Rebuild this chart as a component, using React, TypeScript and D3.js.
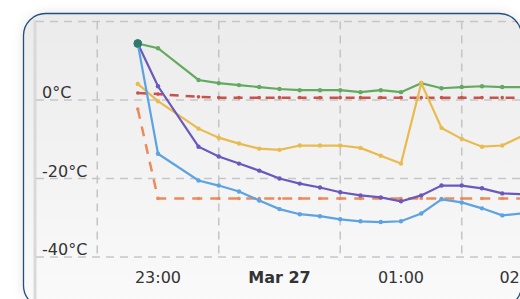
import React from 'react';
import * as d3 from 'd3';

// sample times (Mar 26 -> Mar 27)
const times = ['22:50', '23:00', '23:20', '23:30', '23:40', '23:50', '00:00', '00:10', '00:20', '00:30',
    '00:40', '00:50', '01:00', '01:10', '01:20', '01:30', '01:40', '01:50', '02:00'];

const green = [14.4, 13.2, 5.1, 4.3, 3.8, 3.3, 2.8, 2.5, 2.5, 2.5, 2.0, 2.5, 2.0, 4.3, 3.0, 3.3, 3.5, 3.3, 3.3];
const yellow = [4.1, -0.3, -7.3, -9.6, -11.1, -12.4, -12.7, -11.6, -11.6, -11.6, -12.2, -14.2, -16.2, 4.3, -7.1, -9.9, -11.9, -11.6, -9.1];
const purple = [14.4, 3.5, -11.9, -14.4, -16.2, -18.0, -20.0, -21.3, -22.3, -23.5, -24.3, -24.8, -25.8, -24.3, -21.8, -21.8, -22.5, -23.8, -24.0];
const blue = [14.4, -13.7, -20.5, -21.8, -23.3, -25.6, -27.8, -29.1, -29.6, -30.4, -30.9, -31.1, -30.9, -28.9, -25.3, -26.1, -27.6, -29.4, -28.9];
const redLimit = [1.8, 1.5, 0.8, 0.6, 0.6, 0.6, 0.6, 0.6, 0.6, 0.6, 0.6, 0.6, 0.6, 0.6, 0.6, 0.6, 0.6, 0.6, 0.6];
const orangeLimit = [-2.3, -25.1, -25.1, -25.1, -25.1, -25.1, -25.1, -25.1, -25.1, -25.1, -25.1, -25.1, -25.1, -25.1, -25.1, -25.1, -25.1, -25.1, -25.1];

const yTicks = [20, 0, -20, -40];
const yLabels = ['', '0°C', '-20°C', '-40°C'];
const xLabelTimes = ['23:00', '00:00', '01:00', '02:00'];
const xLabels = ['23:00', 'Mar 27', '01:00', '02:00'];
const gridTimes = ['22:30', '23:30', '00:30', '01:30'];

const toDate = (t: string) => {
    const [h, m] = t.split(':').map(Number);
    // hours before midnight belong to Mar 26
    return h >= 12 ? new Date(2014, 2, 26, h, m) : new Date(2014, 2, 27, h, m);
};

const dashed = [
    { values: redLimit, color: '#c9534c', dash: '9 7' },
    { values: orangeLimit, color: '#ec8a5c', dash: '10 8' },
];
const solid = [
    { values: green, color: '#62aa5e' },
    { values: yellow, color: '#e9bb4f' },
    { values: purple, color: '#6b58bd' },
    { values: blue, color: '#5da3e3' },
];

export default function App() {
    const width = 520, height = 299;

    const x = d3.scaleTime()
        .domain([toDate('22:00'), toDate('02:00')])
        .range([36.5, 522.5]);
    const y = d3.scaleLinear()
        .domain([-40, 20])
        .range([257, 21.5]);

    const dates = times.map(toDate);
    const line = d3.line<number>()
        .x((d, i) => x(dates[i]))
        .y(d => y(d));

    const font = 'DejaVu Sans, Verdana, sans-serif';
    // markers where several series share the same reading get drawn as one bigger dot
    const shared = (v: number, i: number) => solid.filter(s => s.values[i] === v).length > 1;

    return (
        <svg width={width} height={height} style={{ position: 'absolute', left: 0, top: 0, display: 'block' }}>
            <defs>
                <linearGradient id="bg" x1="0" y1="0" x2="0" y2="1">
                    <stop offset="0" stopColor="#ebebeb" />
                    <stop offset="1" stopColor="#fafafa" />
                </linearGradient>
                <filter id="shadow" x="-10%" y="-10%" width="120%" height="120%">
                    <feDropShadow dx="0" dy="0" stdDeviation="6" floodColor="#000" floodOpacity="0.12" />
                </filter>
                <clipPath id="card">
                    <rect x={23.5} y={13.5} width={498} height={294} rx={22} />
                </clipPath>
            </defs>
            <rect width={width} height={height} fill="#fff" />
            <rect x={23.5} y={13.5} width={498} height={294} rx={22} fill="url(#bg)" filter="url(#shadow)" />

            <g clipPath="url(#card)">
                <line x1={35} x2={35} y1={20} y2={310} stroke="#d9d9d9" strokeWidth={3} />
                {yTicks.map(t => (
                    <line key={t} x1={36} x2={width} y1={y(t)} y2={y(t)}
                        stroke="#c6c6c6" strokeWidth={1.6} strokeDasharray="8 6" />
                ))}
                {gridTimes.map(t => (
                    <line key={t} x1={x(toDate(t))} x2={x(toDate(t))} y1={y(20)} y2={y(-40)}
                        stroke="#c6c6c6" strokeWidth={1.6} strokeDasharray="8 6" />
                ))}
                {yTicks.map((t, i) => (
                    <text key={t} x={42} y={y(t) - 2} fontFamily={font} fontSize={16} fill="#333">{yLabels[i]}</text>
                ))}
                {xLabelTimes.map((t, i) => (
                    <text key={t} x={x(toDate(t))} y={283} textAnchor="middle" fontFamily={font} fontSize={16}
                        fontWeight={i === 1 ? 'bold' : 'normal'} fill="#333">{xLabels[i]}</text>
                ))}

                {dashed.map(s => (
                    <g key={s.color}>
                        <path d={line(s.values) || ''} fill="none" stroke={s.color} strokeWidth={2.5}
                            strokeDasharray={s.dash} />
                        {s.values.map((v, i) => (
                            <circle key={i} cx={x(dates[i])} cy={y(v)} r={1.8} fill={s.color} />
                        ))}
                    </g>
                ))}
                {solid.map(s => (
                    <g key={s.color}>
                        <path d={line(s.values) || ''} fill="none" stroke={s.color} strokeWidth={2.2} />
                        {s.values.map((v, i) => (
                            <circle key={i} cx={x(dates[i])} cy={y(v)} r={shared(v, i) && i === 0 ? 4 : 2.2}
                                fill={shared(v, i) && i === 0 ? '#2f7a6c' : s.color} />
                        ))}
                    </g>
                ))}
            </g>
            <rect x={23.5} y={13.5} width={498} height={294} rx={22} fill="none" stroke="#224f7c" strokeWidth={1.3} />
        </svg>
    );
}
